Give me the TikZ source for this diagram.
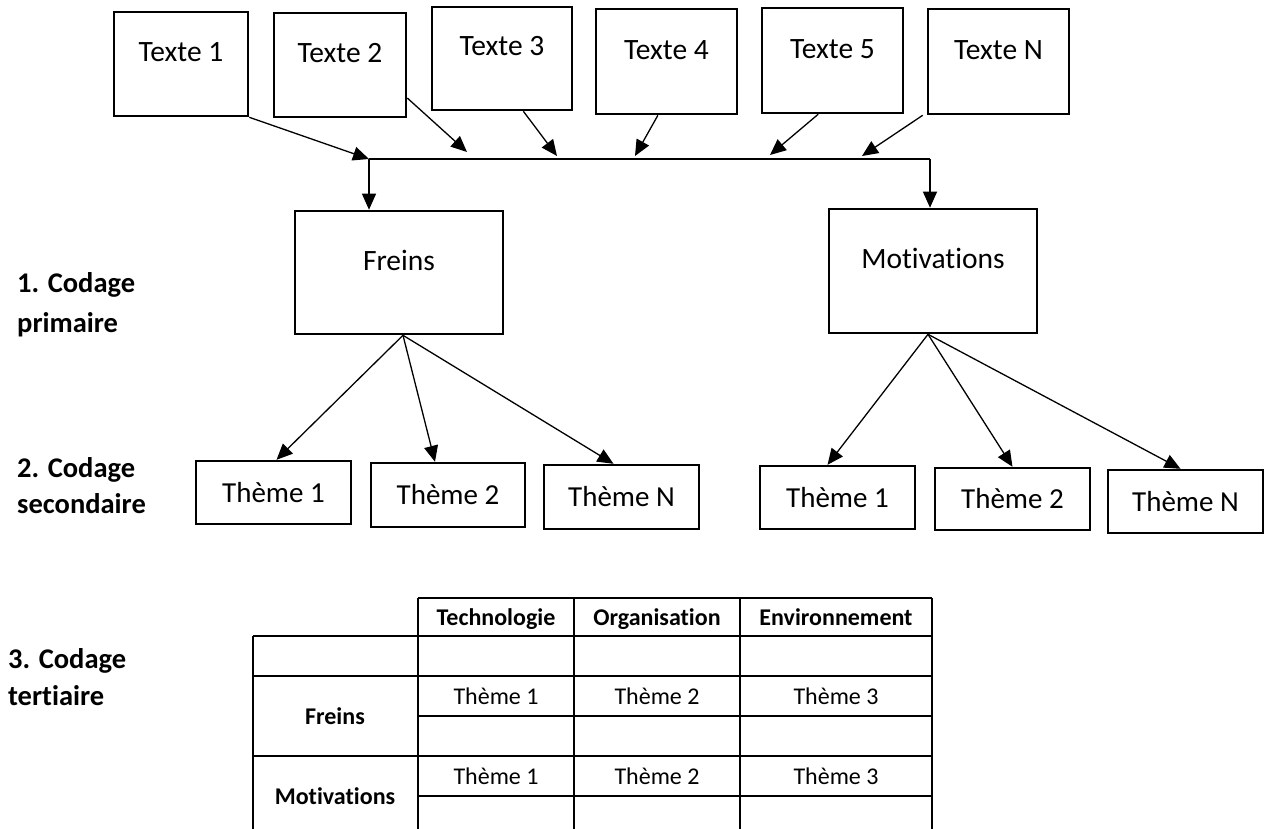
\documentclass[tikz,border=0pt]{standalone}
\usepackage{fontspec}
\setmainfont{Carlito}[Ligatures=NoCommon]
\usetikzlibrary{arrows.meta,calc}
\begin{document}
\begin{tikzpicture}[x=1pt,y=-1pt,
  textbox/.style={draw,line width=2.6pt,inner sep=0pt},
  themebox/.style={draw,line width=2.4pt,inner sep=0pt,minimum width=155pt,minimum height=63pt,font=\fontsize{29}{34}\selectfont},
  lbl/.style={inner sep=0pt,anchor=base,font=\fontsize{29.5}{34}\selectfont},
  side/.style={inner sep=0pt,anchor=base west,font=\bfseries\fontsize{28.5}{32}\selectfont},
  arr/.style={line width=1.3pt,-{Triangle[length=16pt,width=14pt]}},
  tline/.style={line width=1.8pt},
  thead/.style={inner sep=0pt,anchor=base,font=\bfseries\fontsize{24}{28}\selectfont},
  tcell/.style={inner sep=0pt,anchor=base,font=\fontsize{24}{28}\selectfont}]
\useasboundingbox (0,0) rectangle (1267,829);
% top text boxes
\node[textbox,minimum width=134pt,minimum height=104pt] (t1) at (181,64) {};
\node[textbox,minimum width=132pt,minimum height=104pt] (t2) at (340,65) {};
\node[textbox,minimum width=140pt,minimum height=103pt] (t3) at (502,58.5) {};
\node[textbox,minimum width=141pt,minimum height=105pt] (t4) at (666.5,61.5) {};
\node[textbox,minimum width=141pt,minimum height=105pt] (t5) at (832.5,60.5) {};
\node[textbox,minimum width=141pt,minimum height=105pt] (tn) at (998.5,61.5) {};
\node[lbl] (t1l) at (181,62) {Texte 1};
\node[lbl] (t2l) at (340,63) {Texte 2};
\node[lbl] (t3l) at (502,56) {Texte 3};
\node[lbl] (t4l) at (666.5,60) {Texte 4};
\node[lbl] (t5l) at (832.5,59) {Texte 5};
\node[lbl] (tnl) at (998.5,60) {Texte N};
% junction coordinates
\coordinate (jl) at (369,159);
\coordinate (jr) at (930,159);
\coordinate (c2) at (467,152);
\coordinate (c3) at (557,156);
\coordinate (c4) at (635,156);
\coordinate (c5) at (770,155);
\coordinate (cn) at (862,156);
\draw[line width=1.5pt] (jl) -- (jr);
\draw[arr] (t1.south east) -- (jl);
\draw[arr] ($(t2.north east)!0.81!(t2.south east)$) -- (c2);
\draw[arr] ($(t3.south west)!0.65!(t3.south east)$) -- (c3);
\draw[arr] ($(t4.south west)!0.44!(t4.south east)$) -- (c4);
\draw[arr] ($(t5.south west)!0.40!(t5.south east)$) -- (c5);
\draw[arr] ([xshift=-4pt]tn.south west) -- (cn);
% primary coding boxes
\node[textbox,minimum width=208pt,minimum height=123pt] (fr) at (399,272.5) {};
\node[textbox,minimum width=208pt,minimum height=124pt] (mo) at (933,271) {};
\node[lbl] (frl) at (399,271) {Freins};
\node[lbl] (mol) at (933,269) {Motivations};
\draw[arr] (jl) -- (jl |- fr.north);
\draw[arr] (jr) -- (jr |- mo.north);
% theme boxes
\node[themebox] (a1) at (273.5,492.5) {Thème 1};
\node[themebox,minimum width=154pt,minimum height=64pt] (a2) at (448,495) {Thème 2};
\node[themebox,minimum height=64pt] (an) at (621.5,497) {Thème N};
\node[themebox] (b1) at (837.5,497.5) {Thème 1};
\node[themebox,minimum height=62pt] (b2) at (1012.5,499) {Thème 2};
\node[themebox] (bn) at (1185.5,501.5) {Thème N};
\coordinate (fa) at ([xshift=4pt]fr.south);
\coordinate (ma) at ([xshift=-5pt]mo.south);
\draw[arr] (fa) -- ([xshift=3pt]a1.north);
\draw[arr] (fa) -- ([xshift=-13pt]a2.north);
\draw[arr] (fa) -- ([xshift=-8pt]an.north);
\draw[arr] (ma) -- ([xshift=-10pt]b1.north);
\draw[arr] (ma) -- (b2.north);
\draw[arr] (ma) -- ([xshift=-5pt]bn.north);
% side labels
\node[side] (s1a) at (17,293) {1. Codage};
\node[side] (s1b) at (17,332) {primaire};
\node[side] (s2a) at (17,477) {2. Codage};
\node[side] (s2b) at (17,513) {secondaire};
\node[side] (s3a) at (8,668) {3. Codage};
\node[side] (s3b) at (8,705) {tertiaire};
% table
\draw[tline] (418,598) -- (932,598);
\draw[tline] (253,636) -- (932,636);
\draw[tline] (253,676) -- (932,676);
\draw[tline] (418,716) -- (932,716);
\draw[tline] (253,756) -- (932,756);
\draw[tline] (418,796) -- (932,796);
\draw[tline] (253,636) -- (253,829);
\draw[tline] (418,598) -- (418,829);
\draw[tline] (574,598) -- (574,829);
\draw[tline] (740,598) -- (740,829);
\draw[tline] (932,598) -- (932,829);
\node[thead] (h1) at (496,625) {Technologie};
\node[thead] (h2) at (657,625) {Organisation};
\node[thead] (h3) at (836,625) {Environnement};
\node[thead] (rf) at (335,724) {Freins};
\node[thead] (rm) at (335,804) {Motivations};
\node[tcell] (f1) at (496,704) {Thème 1};
\node[tcell] (f2) at (657,704) {Thème 2};
\node[tcell] (f3) at (836,704) {Thème 3};
\node[tcell] (m1) at (496,784) {Thème 1};
\node[tcell] (m2) at (657,784) {Thème 2};
\node[tcell] (m3) at (836,784) {Thème 3};
\end{tikzpicture}
\end{document}
